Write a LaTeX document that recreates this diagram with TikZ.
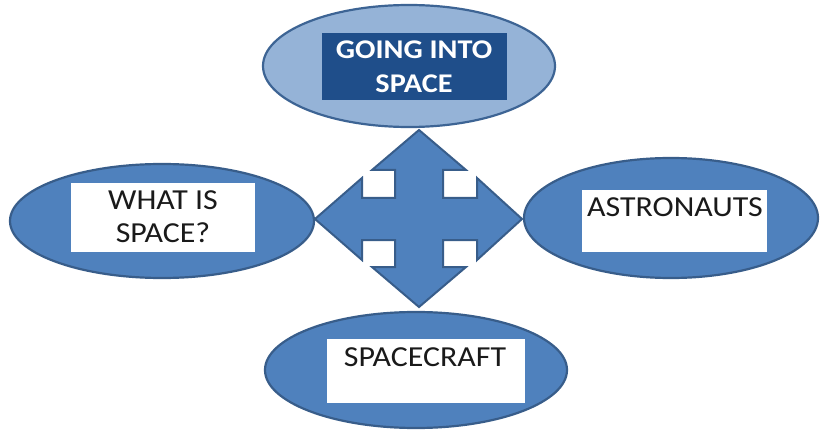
\documentclass[tikz,border=0pt]{standalone}
\usepackage{fontspec}
\setmainfont{Carlito}
\newfontfamily\lblfont[FakeStretch=1.1]{Carlito}
\newfontfamily\lblbold[FakeStretch=1.12]{Carlito Bold}
\usetikzlibrary{shapes.geometric}
\definecolor{midblue}{HTML}{4F81BD}
\definecolor{edgeblue}{HTML}{385D8A}
\definecolor{lightblue}{HTML}{95B3D7}
\definecolor{darkbox}{HTML}{1F4E8A}
\definecolor{inkgray}{HTML}{1A1A1A}
\tikzset{
  bubble/.style={ellipse, draw=edgeblue, fill=midblue, line width=2.2pt, inner sep=0pt},
  topbubble/.style={ellipse, draw=edgeblue!80!midblue, fill=lightblue, line width=2.2pt, inner sep=0pt},
  whitebox/.style={rectangle, fill=white, inner sep=0pt},
  titlebox/.style={rectangle, fill=darkbox, inner sep=0pt},
  lbl/.style={inner sep=0pt, anchor=base, text=inkgray, font=\lblfont\fontsize{29}{32}\selectfont},
  titlelbl/.style={inner sep=0pt, anchor=base, text=white, font=\lblbold\fontsize{27}{34}\selectfont},
  crossarrow/.style={fill=midblue, draw=edgeblue, line width=2pt, line join=miter}
}
\begin{document}
\begin{tikzpicture}[x=1pt,y=-1pt]
\useasboundingbox[fill=white] (0,0) rectangle (820,433);
% four-way arrow
\coordinate (c) at (419,219);
\draw[crossarrow] (419,130) -- (466,170) -- (443,170) -- (443,198) -- (477,198) -- (477,178)
  -- (522,219) -- (477,260) -- (477,240) -- (443,240) -- (443,267) -- (466,267)
  -- (419,307) -- (372,267) -- (395,267) -- (395,240) -- (362,240) -- (362,260)
  -- (315,219) -- (362,178) -- (362,198) -- (395,198) -- (395,170) -- (372,170) -- cycle;
% ellipses
\node[topbubble, minimum width=292pt, minimum height=122pt] (top) at (409,66) {};
\node[bubble, minimum width=304pt, minimum height=114pt] (left) at (162,221) {};
\node[bubble, minimum width=294pt, minimum height=120pt] (right) at (671,218) {};
\node[bubble, minimum width=302pt, minimum height=116pt] (bottom) at (416,370) {};
% boxes
\node[titlebox, minimum width=185pt, minimum height=67pt] (topbox) at (414.5,66.5) {};
\node[whitebox, minimum width=184pt, minimum height=69pt] (leftbox) at (163,217.5) {};
\node[whitebox, minimum width=185pt, minimum height=62pt] (rightbox) at (674.5,221) {};
\node[whitebox, minimum width=198pt, minimum height=64pt] (bottombox) at (426,371) {};
% labels
\node[titlelbl] (t1) at (414,59) {GOING INTO};
\node[titlelbl] (t2) at (414,93) {SPACE};
\node[lbl] (l1) at (163,210) {WHAT IS};
\node[lbl] (l2) at (163,242) {SPACE?};
\node[lbl] (r1) at (675,217) {ASTRONAUTS};
\node[lbl] (b1) at (425,366) {SPACECRAFT};
\end{tikzpicture}
\end{document}
